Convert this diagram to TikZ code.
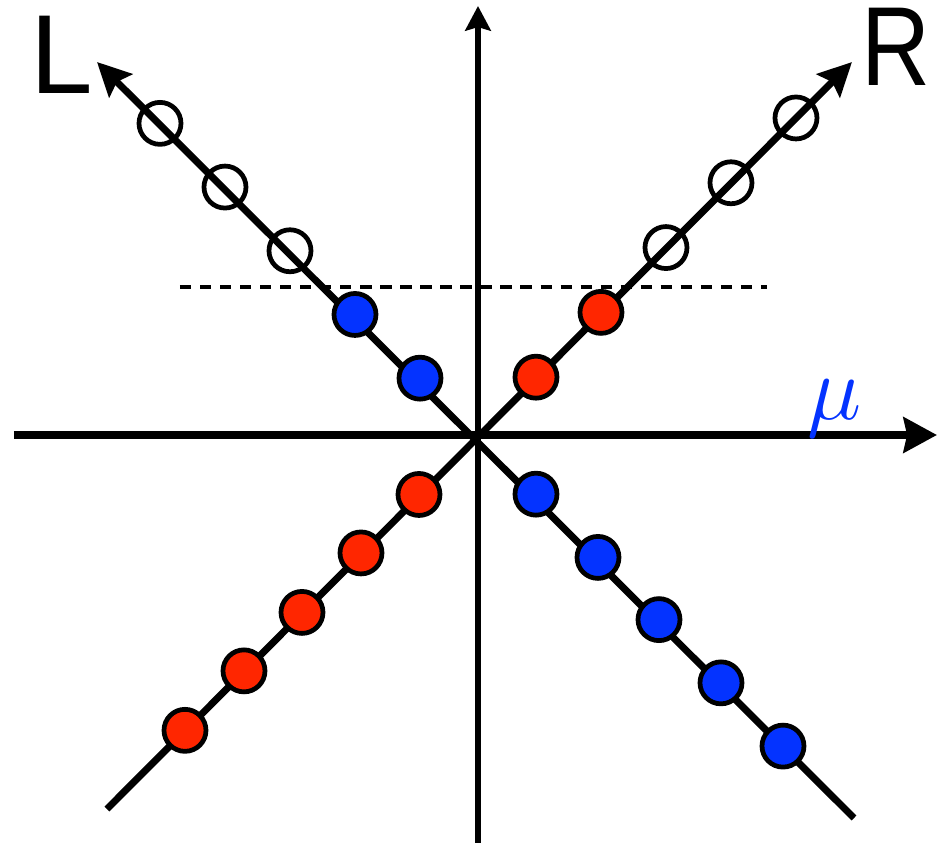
\documentclass[tikz,border=0pt]{standalone}
\usepackage{fontspec}
\usepackage{graphicx}
\newfontfamily\labelfont{Liberation Sans}
\usetikzlibrary{arrows.meta}
\definecolor{keyred}{HTML}{FF2600}
\definecolor{keyblue}{HTML}{0433FF}
\tikzset{
  haxis/.style={line width=4.8pt, -{Stealth[length=19pt, width=20pt, inset=2pt]}},
  vaxis/.style={line width=3pt, -{Stealth[length=14pt, width=14.5pt, inset=2pt]}},
  branch/.style={line width=4pt, -{Stealth[length=19pt, width=18.5pt, inset=3pt]}},
  fermi/.style={line width=2.6pt, dash pattern=on 6.4pt off 5pt},
  state/.style={circle, draw, line width=2.7pt, minimum size=0.84cm, inner sep=0pt},
  redstate/.style={state, fill=keyred},
  bluestate/.style={state, fill=keyblue},
  openstate/.style={state},
  chirality/.style={font=\labelfont\fontsize{64}{64}\selectfont, inner sep=0pt, anchor=base}
}

\begin{document}
\begin{tikzpicture}[x=0.02cm, y=0.02cm]
  \useasboundingbox (-478,-408) rectangle (460,435);
  % axes
  \coordinate (o) at (0,0);
  \coordinate (west) at (-464,0);
  \coordinate (east) at (459,0);
  \coordinate (south) at (0,-408);
  \coordinate (north) at (0,429);
  \draw[haxis] (west) -- (east);
  \draw[vaxis] (south) -- (north);
  % the two branches
  \coordinate (rstart) at (-371,-374);
  \coordinate (rtip) at (374,373);
  \coordinate (lstart) at (376,-383);
  \coordinate (ltip) at (-381,373);
  \draw[branch] (rstart) -- (rtip);
  \draw[branch] (lstart) -- (ltip);
  % level
  \coordinate (fleft) at (-298,148);
  \coordinate (fright) at (289,148);
  \draw[fermi] (fleft) -- (fright);
  % states
  \foreach \d/\s [count=\i] in {58/redstate,123/redstate,188/openstate,253/openstate,318/openstate}
    \node[\s] (ur\i) at (\d,{0.997*\d}) {};
  \foreach \d/\s [count=\i] in {58/bluestate,123/bluestate,188/openstate,253/openstate,318/openstate}
    \node[\s] (ul\i) at (-\d,{0.98*\d}) {};
  \foreach \d [count=\i] in {59,117,176,234,293}
    \node[redstate] (ll\i) at (-\d,{-1.008*\d}) {};
  \foreach \d [count=\i] in {58,120,181,243,305}
    \node[bluestate] (lr\i) at (\d,{-1.02*\d}) {};
  % labels
  \node[chirality] (lab-L) at (-416,342) {L};
  \node[chirality] (lab-R) at (418,350) {\scalebox{0.85}[1]{R}};
  \node[inner sep=0pt, anchor=base, text=keyblue] (lab-mu) at (357,16)
    {\fontsize{24}{24}\selectfont\scalebox{2.1}{$\mu$}};
\end{tikzpicture}
\end{document}
